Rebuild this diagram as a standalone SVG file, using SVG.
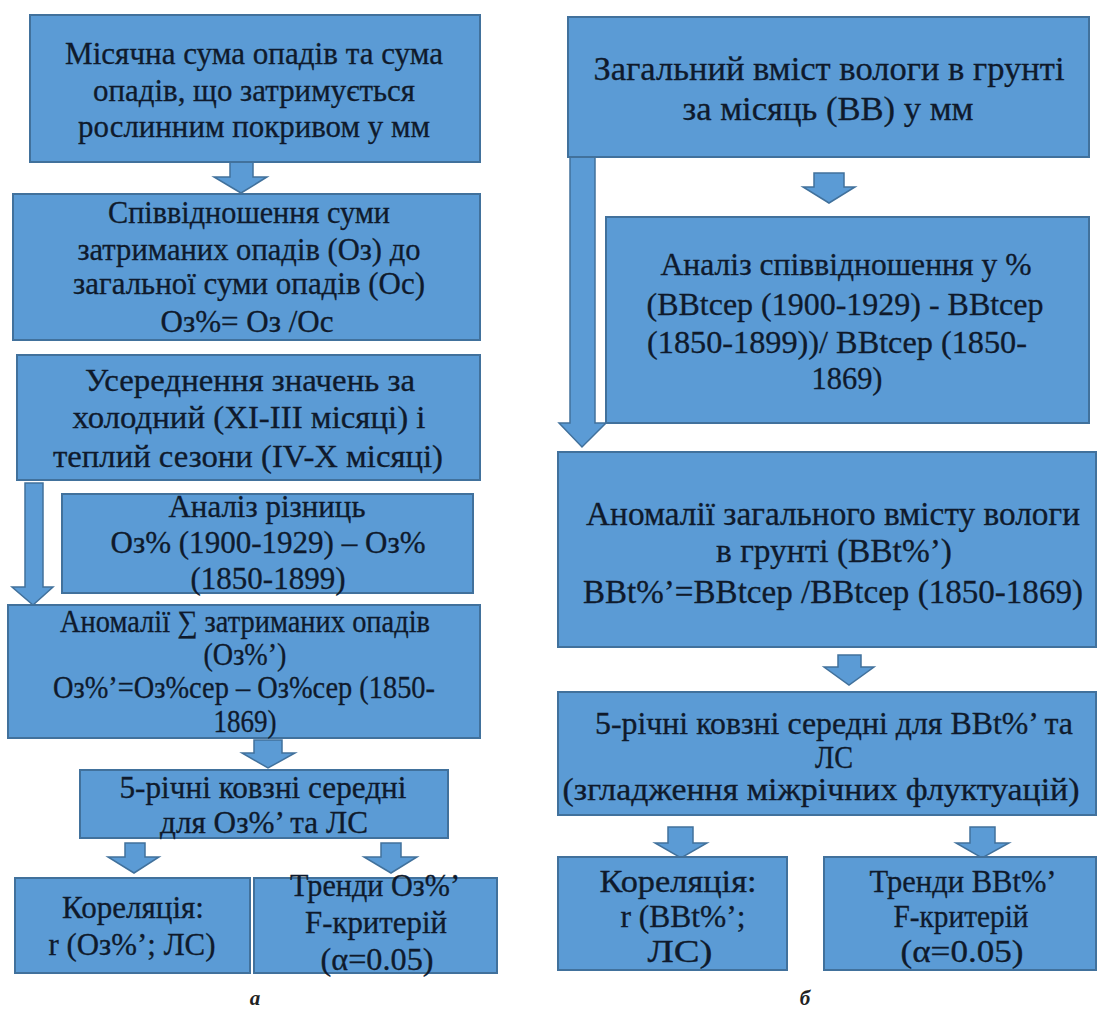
<svg xmlns="http://www.w3.org/2000/svg" width="1097" height="1011" viewBox="0 0 1097 1011">
<style>
.box{fill:#5B9BD5;stroke:#41719C;stroke-width:2}
.arr{fill:#5B9BD5;stroke:#41719C;stroke-width:1.5;stroke-linejoin:miter}
text{font-family:"Liberation Serif","Times New Roman",serif;font-size:31px;fill:#0f1a2c;stroke:#0f1a2c;stroke-width:0.3;text-anchor:middle}
.big{font-size:34px}
.mid{font-size:32px}
.r4{font-size:31px}
.lab{font-style:italic;font-weight:bold;font-size:21px;fill:#222;stroke:none}
</style>
<rect width="1097" height="1011" fill="#ffffff"/>

<g id="connectors">
<polygon class="arr" points="230,162 253,162 253,177 267,177 241,193 214,177 230,177"/>
<polygon class="arr" points="25,483 43,483 43,587 53,587 33,605 12,587 25,587"/>
<polygon class="arr" points="254,740 282,740 282,753 295,753 268,768 242,753 254,753"/>
<polygon class="arr" points="125,843 145,843 145,857 159,857 134,873 108,857 125,857"/>
<polygon class="arr" points="381,843 401,843 401,857 417,857 391,873 364,857 381,857"/>
<polygon class="arr" points="570,157 595,157 595,423 606,423 582,447 559,423 570,423"/>
<polygon class="arr" points="814,173 844,173 844,187 855,187 829,203 803,187 814,187"/>
<polygon class="arr" points="838,655 861,655 861,667 874,667 849,685 824,667 838,667"/>
<polygon class="arr" points="668,827 693,827 693,843 707,843 681,858 655,843 668,843"/>
<polygon class="arr" points="970,827 995,827 995,843 1009,843 982,858 956,843 970,843"/>
</g>

<g id="n1">
<rect class="box" x="30" y="15" width="450" height="147"/>
<text x="254" y="64" textLength="378" lengthAdjust="spacingAndGlyphs">Місячна сума опадів та сума</text>
<text x="254" y="101" textLength="322" lengthAdjust="spacingAndGlyphs">опадів, що затримується</text>
<text x="254" y="137" textLength="352" lengthAdjust="spacingAndGlyphs">рослинним покривом у мм</text>
</g>

<g id="n2">
<rect class="box" x="13" y="194" width="467" height="146"/>
<text x="249" y="223" textLength="282" lengthAdjust="spacingAndGlyphs">Співвідношення суми</text>
<text x="249" y="260" textLength="343" lengthAdjust="spacingAndGlyphs">затриманих опадів (Оз) до</text>
<text x="249" y="294" textLength="352" lengthAdjust="spacingAndGlyphs">загальної суми опадів (Ос)</text>
<text x="247" y="332" textLength="173" lengthAdjust="spacingAndGlyphs">Оз%= Оз /Ос</text>
</g>

<g id="n3">
<rect class="box" x="17" y="355" width="463" height="125"/>
<text x="250" y="391" textLength="330" lengthAdjust="spacingAndGlyphs">Усереднення значень за</text>
<text x="249" y="428" textLength="353" lengthAdjust="spacingAndGlyphs">холодний (XI-III місяці) і</text>
<text x="248" y="467" textLength="390" lengthAdjust="spacingAndGlyphs">теплий сезони (IV-X місяці)</text>
</g>

<g id="n4">
<rect class="box" x="62" y="494" width="411" height="99"/>
<text x="267" y="517" textLength="197" lengthAdjust="spacingAndGlyphs">Аналіз різниць</text>
<text x="268" y="553" textLength="315" lengthAdjust="spacingAndGlyphs">Оз% (1900-1929) – Оз%</text>
<text x="268" y="589" textLength="155" lengthAdjust="spacingAndGlyphs">(1850-1899)</text>
</g>

<g id="n5">
<rect class="box" x="8" y="605" width="472" height="133"/>
<text x="245" y="632" textLength="370" lengthAdjust="spacingAndGlyphs">Аномалії ∑ затриманих опадів</text>
<text x="245" y="665" textLength="83" lengthAdjust="spacingAndGlyphs">(Оз%’)</text>
<text x="244" y="698" textLength="382" lengthAdjust="spacingAndGlyphs">Оз%’=Оз%сер – Оз%сер (1850-</text>
<text x="245" y="732" textLength="63" lengthAdjust="spacingAndGlyphs">1869)</text>
</g>

<g id="n6">
<rect class="box" x="80" y="770" width="368" height="68"/>
<text x="263" y="798" textLength="287" lengthAdjust="spacingAndGlyphs">5-річні ковзні середні</text>
<text x="264" y="833" textLength="208" lengthAdjust="spacingAndGlyphs">для Оз%’ та ЛС</text>
</g>

<g id="n7">
<rect class="box" x="15" y="878" width="235" height="95"/>
<text x="133" y="918" textLength="142" lengthAdjust="spacingAndGlyphs">Кореляція:</text>
<text x="132" y="955" textLength="167" lengthAdjust="spacingAndGlyphs">r (Оз%’; ЛС)</text>
</g>

<g id="n8">
<rect class="box" x="254" y="878" width="243" height="95"/>
<text x="375" y="896" textLength="170" lengthAdjust="spacingAndGlyphs">Тренди Оз%’</text>
<text x="376" y="933" textLength="142" lengthAdjust="spacingAndGlyphs">F-критерій</text>
<text x="377" y="970" textLength="113" lengthAdjust="spacingAndGlyphs">(α=0.05)</text>
</g>

<g id="r1">
<rect class="box" x="568" y="17" width="521" height="140"/>
<text class="big" x="829" y="80" textLength="471" lengthAdjust="spacingAndGlyphs">Загальний вміст вологи в грунті</text>
<text class="big" x="828" y="120" textLength="291" lengthAdjust="spacingAndGlyphs">за місяць (ВВ) у мм</text>
</g>

<g id="r2">
<rect class="box" x="606" y="217" width="483" height="206"/>
<text class="mid" x="846" y="275" textLength="371" lengthAdjust="spacingAndGlyphs">Аналіз співвідношення у %</text>
<text class="mid" x="845" y="315" textLength="397" lengthAdjust="spacingAndGlyphs">(BBtcep (1900-1929) -  BBtcep</text>
<text class="mid" x="837" y="353" textLength="380" lengthAdjust="spacingAndGlyphs">(1850-1899))/ BBtcep (1850-</text>
<text class="mid" x="847" y="389" textLength="71" lengthAdjust="spacingAndGlyphs">1869)</text>
</g>

<g id="r3">
<rect class="box" x="558" y="452" width="538" height="195"/>
<text class="big" x="833" y="525" textLength="494" lengthAdjust="spacingAndGlyphs">Аномалії загального вмісту вологи</text>
<text class="big" x="834" y="562" textLength="236" lengthAdjust="spacingAndGlyphs">в грунті (BBt%’)</text>
<text class="big" x="833" y="603" textLength="500" lengthAdjust="spacingAndGlyphs">BBt%’=BBtcep /BBtcep (1850-1869)</text>
</g>

<g id="r4">
<rect class="box" x="558" y="692" width="538" height="123"/>
<text class="r4" x="834" y="734" textLength="478" lengthAdjust="spacingAndGlyphs">5-річні ковзні середні для BBt%’ та</text>
<text class="r4" x="834" y="768" textLength="38" lengthAdjust="spacingAndGlyphs">ЛС</text>
<text class="r4" x="821" y="800" textLength="517" lengthAdjust="spacingAndGlyphs">(згладження міжрічних флуктуацій)</text>
</g>

<g id="r5">
<rect class="box" x="558" y="857" width="229" height="113"/>
<text x="678" y="892" textLength="157" lengthAdjust="spacingAndGlyphs">Кореляція:</text>
<text x="683" y="927" textLength="125" lengthAdjust="spacingAndGlyphs">r (BBt%’;</text>
<text x="680" y="962" textLength="65" lengthAdjust="spacingAndGlyphs">ЛС)</text>
</g>

<g id="r6">
<rect class="box" x="824" y="857" width="272" height="113"/>
<text x="963" y="892" textLength="187" lengthAdjust="spacingAndGlyphs">Тренди BBt%’</text>
<text x="961" y="927" textLength="135" lengthAdjust="spacingAndGlyphs">F-критерій</text>
<text x="962" y="962" textLength="123" lengthAdjust="spacingAndGlyphs">(α=0.05)</text>
</g>

<text class="lab" x="255" y="1005">а</text>
<text class="lab" x="805" y="1005">б</text>
</svg>
